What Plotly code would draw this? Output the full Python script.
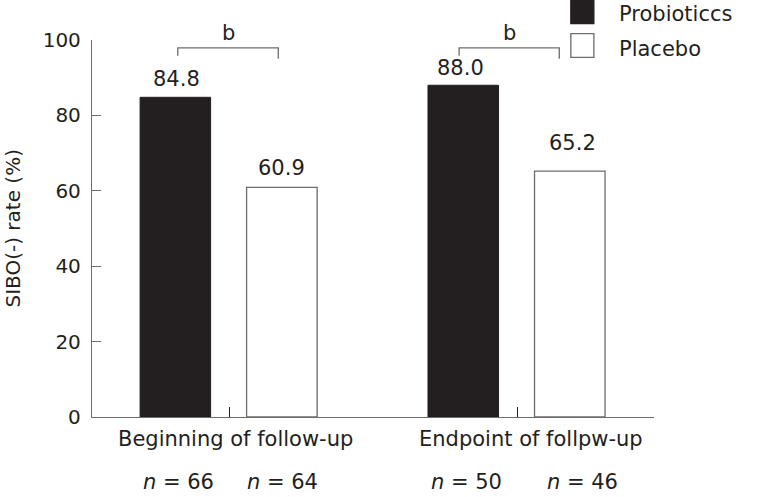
import plotly.graph_objects as go

# ---- data ----
categories = ["Beginning of follow-up", "Endpoint of follpw-up"]
series_names = ["Probioticcs", "Placebo"]
probiotics = [84.8, 88.0]
placebo = [60.9, 65.2]
n_probiotics = [66, 50]
n_placebo = [64, 46]
y_ticks = [0, 20, 40, 60, 80, 100]
sig_labels = ["b", "b"]

# ---- style ----
FONT = "DejaVu Sans"
DARK = "#231f20"
GRAY = "#6d6d6d"
FS = 20
BAR_W = 0.245
OFF_A = -0.31
OFF_B = 0.06
xs = list(range(len(categories)))
cen_a = [x + OFF_A + BAR_W / 2 for x in xs]
cen_b = [x + OFF_B + BAR_W / 2 for x in xs]

fig = go.Figure()
fig.add_trace(go.Bar(x=xs, y=probiotics, name=series_names[0], width=BAR_W, offset=OFF_A,
                     marker=dict(color=DARK, line=dict(color=DARK, width=1))))
fig.add_trace(go.Bar(x=xs, y=placebo, name=series_names[1], width=BAR_W, offset=OFF_B,
                     marker=dict(color="white", line=dict(color=GRAY, width=1.3))))

ann = []
shapes = []
# value labels
shifts_a = [18, 17]
shifts_b = [19, 28]
xsh_a = [1, -3]
xsh_b = [0, 3]
for i in xs:
    ann.append(dict(x=cen_a[i], y=probiotics[i], text=f"{probiotics[i]:.1f}", showarrow=False,
                    yanchor="middle", yshift=shifts_a[i], xshift=xsh_a[i],
                    font=dict(size=21, color=DARK, family=FONT)))
    ann.append(dict(x=cen_b[i], y=placebo[i], text=f"{placebo[i]:.1f}", showarrow=False,
                    yanchor="middle", yshift=shifts_b[i], xshift=xsh_b[i],
                    font=dict(size=21, color=DARK, family=FONT)))
# category labels and n labels
cat_xshift = [6, 14]
for i in xs:
    ann.append(dict(x=i, y=0, text=categories[i], showarrow=False, yanchor="middle",
                    yshift=-22, xshift=cat_xshift[i], font=dict(size=21, color=DARK, family=FONT)))
    ann.append(dict(x=cen_a[i], y=0, text=f"<i>n</i> = {n_probiotics[i]}", showarrow=False,
                    yanchor="middle", yshift=-65, xshift=3, font=dict(size=21, color=DARK, family=FONT)))
    ann.append(dict(x=cen_b[i], y=0, text=f"<i>n</i> = {n_placebo[i]}", showarrow=False,
                    yanchor="middle", yshift=-65, xshift=[1, 13][i], font=dict(size=21, color=DARK, family=FONT)))

# significance brackets
brackets = [(-0.179, 0.170), (-0.202, 0.146)]
for i, (l, r) in enumerate(brackets):
    xl, xr = i + l, i + r
    shapes.append(dict(type="path", xref="x", yref="y",
                       path=f"M {xl},95.8 L {xl},97.9 L {xr},97.9 L {xr},95.0",
                       line=dict(color=GRAY, width=1.3)))
    ann.append(dict(x=(xl + xr) / 2, y=97.9, text=sig_labels[i], showarrow=False, yanchor="middle",
                    yshift=15, font=dict(size=21, color=DARK, family=FONT)))

# y-axis title
ann.append(dict(xref="paper", yref="paper", x=-0.1423, y=0.5, text="SIBO(-) rate (%)", textangle=-90,
                showarrow=False, xanchor="center", yanchor="middle",
                font=dict(size=FS, color=DARK, family=FONT)))

# legend (manual)
leg = [(DARK, DARK, 1.1045, 1.0437, 1.070), ("white", GRAY, 1.017, 0.954, 0.977)]
for k, (fc, lc, y1, y0, ty) in enumerate(leg):
    shapes.append(dict(type="rect", xref="paper", yref="paper", x0=0.852, x1=0.893, y0=y0, y1=y1,
                       fillcolor=fc, line=dict(color=lc, width=1.3)))
    ann.append(dict(xref="paper", yref="paper", x=0.934, y=ty, text=series_names[k], showarrow=False,
                    xanchor="left", yanchor="middle", font=dict(size=21, color=DARK, family=FONT)))

fig.update_layout(
    width=758, height=497,
    margin=dict(l=92, r=104, t=39.5, b=79.5),
    paper_bgcolor="white", plot_bgcolor="white",
    showlegend=False,
    font=dict(family=FONT, color=DARK, size=FS),
    annotations=ann, shapes=shapes,
    xaxis=dict(range=[-0.477, 1.475], tickvals=xs, ticks="inside", ticklen=10, tickcolor=DARK,
               tickwidth=1, showticklabels=False, showline=True, linecolor=GRAY, linewidth=1.3,
               showgrid=False, zeroline=False, fixedrange=True),
    yaxis=dict(range=[0, 100], tickvals=y_ticks, ticks="inside", ticklen=9, tickcolor=GRAY,
               tickwidth=1.3, showline=True, linecolor=GRAY, linewidth=1.3, showgrid=False,
               zeroline=False, tickfont=dict(size=FS, color=DARK, family=FONT), ticklabelstandoff=6,
               fixedrange=True),
)

fig.write_html("out.html", config={"displayModeBar": False},
               post_script="document.body.style.margin='0';document.body.style.overflow='hidden';")
